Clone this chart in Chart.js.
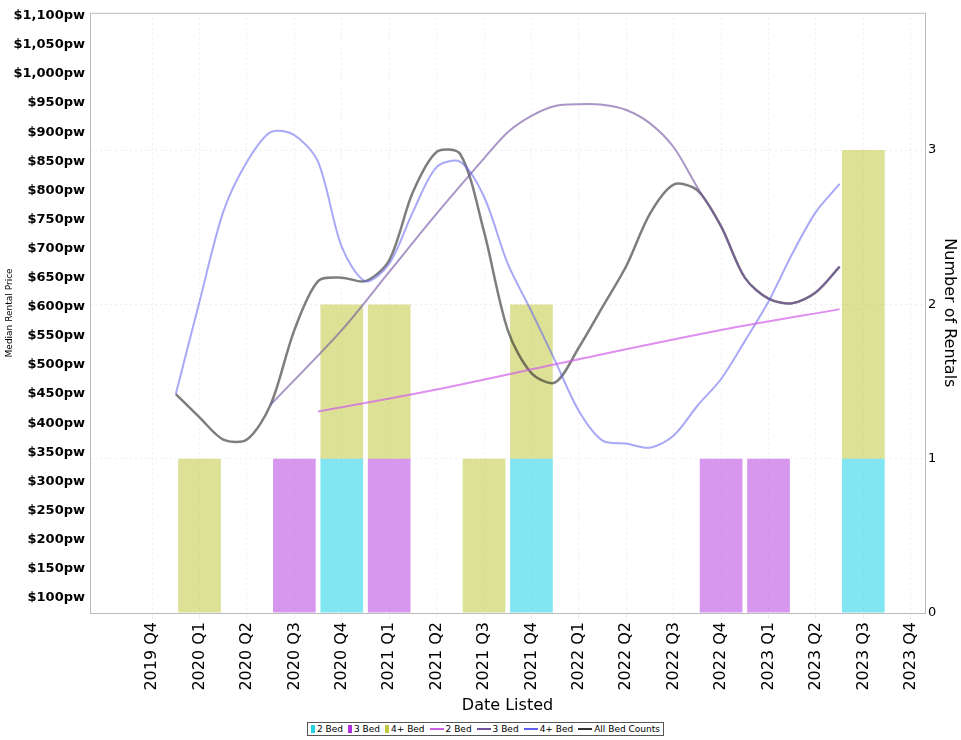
<!DOCTYPE html>
<html><head><meta charset="utf-8">
<script src="https://cdn.jsdelivr.net/npm/chart.js@4"></script>
<style>
body{margin:0;background:#fff;font-family:"DejaVu Sans",sans-serif}
#wrap{width:961px;height:715px;position:relative}
#legend{position:absolute;left:307px;top:722px;border:1px solid #555;font-size:9px;padding:1px 3px;display:flex;gap:5px;white-space:nowrap}
#legend span{display:inline-flex;align-items:center;gap:2px}
.sq{display:inline-block;width:4px;height:8px}
.ln{display:inline-block;width:14px;height:2px}
</style></head><body>
<div id="wrap"><canvas id="c"></canvas></div>
<div id="legend">
<span><i class="sq" style="background:#22d3e6"></i>2 Bed</span>
<span><i class="sq" style="background:#b030e0"></i>3 Bed</span>
<span><i class="sq" style="background:#c0c840"></i>4+ Bed</span>
<span><i class="ln" style="background:#d060e8"></i>2 Bed</span>
<span><i class="ln" style="background:#7050a0"></i>3 Bed</span>
<span><i class="ln" style="background:#6060f0"></i>4+ Bed</span>
<span><i class="ln" style="background:#333"></i>All Bed Counts</span>
</div>
<script>
const quarters = ["2019 Q4","2020 Q1","2020 Q2","2020 Q3","2020 Q4","2021 Q1","2021 Q2","2021 Q3","2021 Q4","2022 Q1","2022 Q2","2022 Q3","2022 Q4","2023 Q1","2023 Q2","2023 Q3","2023 Q4"];
// rental counts per quarter
const count2Bed  = [0,0,0,0,1,0,0,0,1,0,0,0,0,0,0,1,0];
const count3Bed  = [0,0,0,1,0,1,0,0,0,0,0,0,1,1,0,0,0];
const count4Bed  = [0,1,0,0,1,1,0,1,1,0,0,0,0,0,0,2,0];
// median price lines (x = quarter index)
const price2Bed = [[3.5,420],[6,458],[9,510],[12,560],[14.5,596]];
const price3Bed = [[2.5,432],[4,560],[5,660],[6,760],[7,855],[7.5,900],[8,928],[8.5,945],[9,948],[9.5,947],[10,938],[10.5,915],[11,874],[11.5,805],[12,738],[12.5,650],[13,614],[13.5,606],[14,625],[14.5,669]];
const price4Bed = [[0.5,450],[1,609],[1.5,763],[2,849],[2.5,900],[3,895],[3.5,849],[4,703],[4.5,644],[5,674],[5.5,763],[6,840],[6.5,849],[7,789],[7.5,674],[8,592],[8.5,507],[9,421],[9.5,370],[10,365],[10.5,358],[11,379],[11.5,430],[12,476],[12.5,541],[13,609],[13.5,691],[14,763],[14.5,811]];
const priceAll = [[0.5,450],[1,410],[1.5,372],[2,372],[2.5,432],[3,560],[3.5,644],[4,650],[4.5,644],[5,680],[5.5,797],[6,866],[6.5,862],[7,729],[7.5,560],[8,486],[8.5,470],[9,530],[9.5,600],[10,670],[10.5,760],[11,810],[11.5,800],[12,738],[12.5,650],[13,614],[13.5,606],[14,625],[14.5,669]];

const pts = a => a.map(p => ({x:p[0], y:p[1]}));
const bars = a => a.map((v,i) => ({x:i, y:v||null}));
const barDs = (label, data, color) => ({type:'bar', label, data:bars(data), backgroundColor:color, yAxisID:'yR', stack:'s', grouped:false, barPercentage:0.9, categoryPercentage:1, order:2});
const lineDs = (label, data, color, w) => ({type:'line', label, data:pts(data), borderColor:color, borderWidth:w||2, pointRadius:0, tension:0.3, yAxisID:'y', order:1});

const frame = {id:'frame', afterDraw(c){const a=c.chartArea,x=c.ctx;x.save();x.strokeStyle='#bbb';x.lineWidth=1;x.strokeRect(a.left+.5,a.top+.5,a.right-a.left,a.bottom-a.top);x.restore();}};

new Chart(document.getElementById('c'), {
  data:{datasets:[
    lineDs('2 Bed', price2Bed, 'rgba(208,96,232,0.7)'),
    lineDs('3 Bed', price3Bed, 'rgba(112,80,160,0.6)'),
    lineDs('4+ Bed', price4Bed, 'rgba(96,96,240,0.55)'),
    lineDs('All Bed Counts', priceAll, 'rgba(40,40,40,0.6)', 2.5),
    barDs('2 Bed', count2Bed, 'rgba(34,211,230,0.57)'),
    barDs('3 Bed', count3Bed, 'rgba(176,48,224,0.5)'),
    barDs('4+ Bed', count4Bed, 'rgba(192,200,64,0.55)')
  ]},
  options:{
    responsive:true, maintainAspectRatio:false, animation:false,
    layout:{padding:{top:10,left:0,right:0}},
    plugins:{legend:{display:false}, tooltip:{enabled:false}},
    scales:{
      x:{type:'linear', min:-1.31, max:16.3, offset:false,
        afterBuildTicks(s){s.ticks = quarters.map((q,i)=>({value:i}));},
        ticks:{autoSkip:false, maxRotation:90, minRotation:90, color:'#000', font:{size:16, family:'DejaVu Sans'},
          callback:v => quarters[v] || ''},
        grid:{color:'#eee', offset:false, drawTicks:true, tickLength:6},
        border:{display:false, dash:[2,3]},
        title:{display:true, text:'Date Listed', color:'#000', font:{size:16, family:'DejaVu Sans'}, padding:0},
        afterFit(s){s.height=102;}
      },
      y:{position:'left', min:74, max:1105,
        afterBuildTicks(s){s.ticks=[];for(let v=100;v<=1100;v+=50)s.ticks.push({value:v});},
        ticks:{padding:5, color:'#000', font:{size:13, weight:'bold', family:'DejaVu Sans'},
          callback:v => '$' + v.toLocaleString('en-US') + 'pw'},
        grid:{display:false, drawTicks:false}, border:{display:false},
        title:{display:true, text:'Median Rental Price', color:'#000', font:{size:9, family:'DejaVu Sans'}},
        afterFit(s){s.width=90;}
      },
      yR:{position:'right', min:0, max:3.89, stacked:true,
        afterBuildTicks(s){s.ticks=[0,1,2,3].map(v=>({value:v}));},
        ticks:{padding:3, color:'#000', font:{size:13, family:'DejaVu Sans'}},
        grid:{color:'#eee', drawTicks:false}, border:{display:false, dash:[2,3]},
        title:{display:true, text:'Number of Rentals', color:'#000', font:{size:16, family:'DejaVu Sans'}, padding:2},
        afterFit(s){s.width=36;}
      }
    }
  },
  plugins:[frame]
});
</script></body></html>
